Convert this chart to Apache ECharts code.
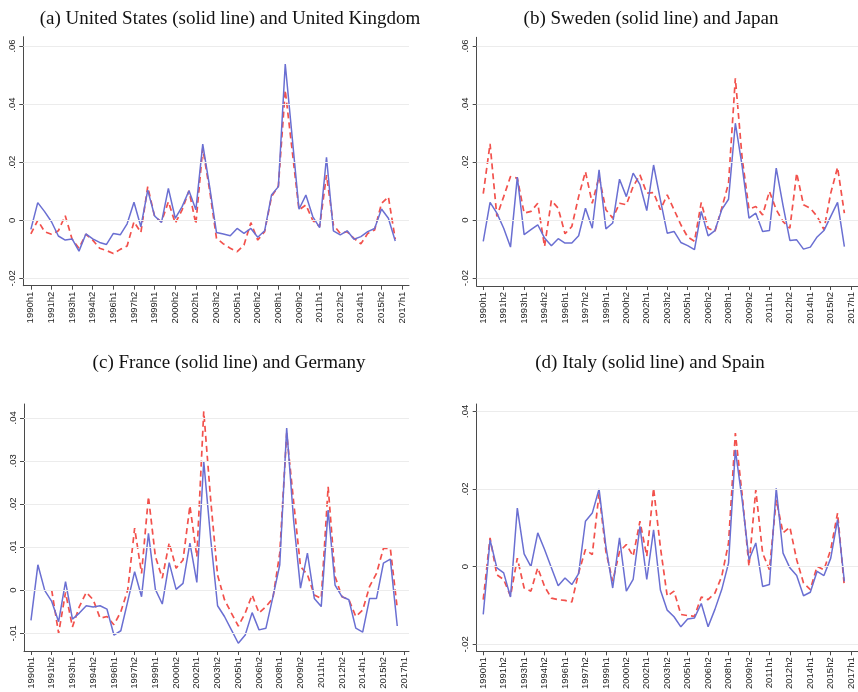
<!DOCTYPE html>
<html>
<head>
<meta charset="utf-8">
<script src="https://cdn.jsdelivr.net/npm/echarts@6/dist/echarts.min.js"></script>
<style>
html,body{margin:0;padding:0;background:#fff;}
#chart{width:858px;height:692px;}
</style>
</head>
<body>
<div id="chart"></div>
<script>
const periods = ['1990h1','1990h2','1991h1','1991h2','1992h1','1992h2','1993h1','1993h2','1994h1','1994h2',
'1995h1','1995h2','1996h1','1996h2','1997h1','1997h2','1998h1','1998h2','1999h1','1999h2',
'2000h1','2000h2','2001h1','2001h2','2002h1','2002h2','2003h1','2003h2','2004h1','2004h2',
'2005h1','2005h2','2006h1','2006h2','2007h1','2007h2','2008h1','2008h2','2009h1','2009h2',
'2010h1','2010h2','2011h1','2011h2','2012h1','2012h2','2013h1','2013h2','2014h1','2014h2',
'2015h1','2015h2','2016h1','2016h2','2017h1'];
const xTickIdx = [0,3,6,9,12,15,18,21,24,27,30,33,36,39,42,45,48,51,54];

const titles = [
  '(a) United States (solid line) and United Kingdom',
  '(b) Sweden (solid line) and Japan',
  '(c) France (solid line) and Germany',
  '(d) Italy (solid line) and Spain'
];

const yTicksAB = [-0.02, 0, 0.02, 0.04, 0.06];
const yTicksC = [-0.01, 0, 0.01, 0.02, 0.03, 0.04];
const yTicksD = [-0.02, 0, 0.02, 0.04];

const usVals = [-0.0031,0.0061,0.003,-0.0005,-0.0054,-0.0068,-0.0064,-0.0106,-0.0047,-0.0064,
-0.0076,-0.0083,-0.0045,-0.005,-0.0012,0.0062,-0.0022,0.0104,0.0015,-0.0007,
0.011,0.0007,0.0047,0.0102,0.0036,0.0262,0.0116,-0.0042,-0.0047,-0.0053,
-0.0028,-0.0045,-0.0028,-0.0058,-0.0036,0.0087,0.0116,0.0538,0.0288,0.0038,
0.0087,0.0013,-0.0025,0.0217,-0.0036,-0.005,-0.0036,-0.0065,-0.0056,-0.0039,
-0.0028,0.0039,0.0007,-0.0071];
const ukVals = [-0.0047,0,-0.0039,-0.0048,-0.0036,0.0016,-0.0065,-0.0096,-0.0048,-0.0068,
-0.0096,-0.0104,-0.0114,-0.01,-0.0088,-0.0005,-0.0042,0.0116,0.0013,-0.0005,
0.0064,-0.001,0.0036,0.0102,-0.0013,0.0248,0.0104,-0.0062,-0.0081,-0.0096,
-0.0108,-0.0085,-0.0008,-0.0068,-0.0039,0.0081,0.0118,0.0448,0.0242,0.0036,
0.0053,0,-0.0022,0.0156,-0.0016,-0.0045,-0.0039,-0.0062,-0.0081,-0.0045,
-0.0033,0.0058,0.0081,-0.0065];
const seVals = [-0.0073,0.0061,0.0024,-0.0028,-0.0093,0.0148,-0.005,-0.0033,-0.0016,-0.0062,
-0.0088,-0.0064,-0.0079,-0.0079,-0.0054,0.0041,-0.0028,0.0173,-0.003,-0.001,
0.0141,0.0081,0.0162,0.0122,0.0033,0.019,0.007,-0.0045,-0.0039,-0.0077,
-0.0088,-0.0102,0.003,-0.0054,-0.0036,0.0036,0.0072,0.0334,0.0185,0.0007,
0.0024,-0.0039,-0.0036,0.0179,0.005,-0.007,-0.0068,-0.01,-0.0093,-0.0058,
-0.0036,0.0013,0.0061,-0.0091];
const jpVals = [0.0091,0.0263,0.0013,0.0081,0.015,0.0145,0.0024,0.003,0.0058,-0.0091,
0.0068,0.0041,-0.0047,-0.0022,0.0081,0.0167,0.0058,0.015,0.0036,0.0007,
0.0058,0.0053,0.0116,0.0156,0.0093,0.0095,0.0036,0.0087,0.0036,-0.0016,
-0.0058,-0.0073,0.0061,-0.0028,-0.0039,0.0041,0.0127,0.0489,0.0213,0.0038,
0.0047,0.0018,0.0099,0.0036,-0.0005,-0.0028,0.0162,0.0053,0.0041,0.0013,
-0.0033,0.0093,0.0182,0.0024];
const frVals = [-0.007,0.0059,-0.0001,-0.0026,-0.0073,0.002,-0.0067,-0.0053,-0.0036,-0.0039,
-0.0036,-0.0044,-0.0104,-0.0094,-0.0026,0.0043,-0.0015,0.0132,0.0002,-0.0032,
0.0064,0.0002,0.0016,0.0109,0.0018,0.0299,0.012,-0.0036,-0.0061,-0.0092,
-0.0123,-0.0104,-0.0052,-0.0092,-0.0088,-0.0016,0.0059,0.0376,0.0163,0.0005,
0.0086,-0.0019,-0.0038,0.0186,0.0012,-0.0015,-0.0022,-0.0088,-0.0097,-0.0019,
-0.0019,0.0063,0.0072,-0.0083];
const deVals = [null,null,null,0,-0.01,-0.0005,-0.0085,-0.0038,-0.0005,-0.0022,
-0.0065,-0.0061,-0.008,-0.005,0.0001,0.0144,0.0039,0.0217,0.0078,0.0028,
0.011,0.0051,0.007,0.0196,0.0078,0.0415,0.021,0.0035,-0.0022,-0.0053,
-0.0083,-0.0053,-0.0011,-0.0053,-0.0038,-0.0019,0.0086,0.0364,0.0206,0.0055,
0.0036,-0.0011,-0.0019,0.024,0.0032,-0.0015,-0.0022,-0.0061,-0.0046,0.0009,
0.0039,0.0097,0.0097,-0.0042];
const itVals = [-0.0123,0.0069,-0.0003,-0.0016,-0.0078,0.0151,0.0033,0,0.0087,0.0044,
-0.0003,-0.0049,-0.0029,-0.0046,-0.0018,0.0117,0.0138,0.02,0.0052,-0.0055,
0.0074,-0.0063,-0.0033,0.0104,-0.0033,0.0095,-0.006,-0.0112,-0.0129,-0.0155,
-0.0135,-0.0132,-0.0095,-0.0155,-0.011,-0.0059,0.0009,0.0301,0.0172,0.0018,
0.0061,-0.0051,-0.0046,0.0202,0.0035,-0.0003,-0.0023,-0.0075,-0.0066,-0.0012,
-0.0023,0.0022,0.0121,-0.0038];
const esVals = [-0.0085,0.0074,-0.0021,-0.0033,-0.0076,0.0022,-0.0055,-0.0063,-0.0003,-0.0051,
-0.0081,-0.0085,-0.0087,-0.0091,-0.0016,0.0044,0.0031,0.0189,0.0039,-0.0038,
0.0039,0.0057,0.0027,0.0117,0.0027,0.0202,0.005,-0.0076,-0.0063,-0.0123,
-0.0126,-0.0128,-0.0078,-0.0085,-0.0068,-0.0025,0.0061,0.0344,0.0185,0.0001,
0.0198,0.0035,-0.0008,0.0172,0.0087,0.0102,0.0018,-0.0042,-0.0059,0.0001,
-0.0008,0.0044,0.0138,-0.0051];

const BLUE = '#6a6fd2';
const RED = '#f2514c';
const AX = '#4a4a4a';

const panels = [
  {title: titles[0], tx: 225, ty: 5, solid: usVals, dashed: ukVals, yt: yTicksAB,
   grid: {left: 23.3, top: 36.7, width: 385.7, height: 249}, xr: [-1.1, 55], yr: [-0.0225, 0.0632]},
  {title: titles[1], tx: 646, ty: 5, solid: seVals, dashed: jpVals, yt: yTicksAB,
   grid: {left: 476.7, top: 37.3, width: 386.5, height: 248.7}, xr: [-0.96, 55], yr: [-0.0227, 0.063]},
  {title: titles[2], tx: 224, ty: 349, solid: frVals, dashed: deVals, yt: yTicksC,
   grid: {left: 24, top: 404, width: 385, height: 247}, xr: [-1.01, 54.7], yr: [-0.0141, 0.0432]},
  {title: titles[3], tx: 645, ty: 349, solid: itVals, dashed: esVals, yt: yTicksD,
   grid: {left: 476.7, top: 404, width: 387.8, height: 247.7}, xr: [-0.96, 55], yr: [-0.0218, 0.0419]}
];

function fmtY(v) {
  if (Math.abs(v) < 1e-9) return '0';
  const s = Math.abs(v).toFixed(2).replace(/^0/, '');
  return (v < 0 ? '-' : '') + s;
}

const option = {
  animation: false,
  backgroundColor: '#fff',
  title: [], grid: [], xAxis: [], yAxis: [], series: []
};

panels.forEach((p, k) => {
  option.title.push({
    text: p.title, left: p.tx, top: p.ty, textAlign: 'center',
    textStyle: {fontFamily: 'Liberation Serif', fontSize: 19, fontWeight: 'normal', color: '#111'}
  });
  option.grid.push(Object.assign({containLabel: false}, p.grid));
  option.xAxis.push({
    type: 'value', gridIndex: k, min: p.xr[0], max: p.xr[1],
    axisLine: {show: true, onZero: false, lineStyle: {color: AX, width: 1}},
    axisTick: {show: true, customValues: xTickIdx, length: 4, lineStyle: {color: AX}},
    axisLabel: {customValues: xTickIdx, rotate: 90, margin: 6, fontSize: 9.5,
      fontFamily: 'Liberation Sans', color: '#222', formatter: v => periods[Math.round(v)]},
    splitLine: {show: false}
  });
  option.yAxis.push({
    type: 'value', gridIndex: k, min: p.yr[0], max: p.yr[1],
    axisLine: {show: true, onZero: false, lineStyle: {color: AX, width: 1}},
    axisTick: {show: true, customValues: p.yt, length: 4, lineStyle: {color: AX}},
    axisLabel: {customValues: p.yt, rotate: 90, margin: 6, fontSize: 9.5,
      fontFamily: 'Liberation Sans', color: '#222', formatter: fmtY},
    splitLine: {show: false}
  });
  option.series.push({
    type: 'line', xAxisIndex: k, yAxisIndex: k, z: 1,
    data: [], symbol: 'none', silent: true,
    markLine: {silent: true, symbol: 'none', label: {show: false},
      lineStyle: {color: '#ececec', width: 1, type: 'solid'},
      data: p.yt.map(v => ({yAxis: v}))}
  });
  option.series.push({
    type: 'line', xAxisIndex: k, yAxisIndex: k, z: 3,
    data: p.dashed.map((v, i) => [i, v]), symbol: 'none', connectNulls: false,
    lineStyle: {color: RED, width: 1.7, type: [6, 4]}
  });
  option.series.push({
    type: 'line', xAxisIndex: k, yAxisIndex: k, z: 4,
    data: p.solid.map((v, i) => [i, v]), symbol: 'none',
    lineStyle: {color: BLUE, width: 1.5, type: 'solid'}
  });
});

const chart = echarts.init(document.getElementById('chart'), null, {renderer: 'canvas'});
chart.setOption(option);
</script>
</body>
</html>
